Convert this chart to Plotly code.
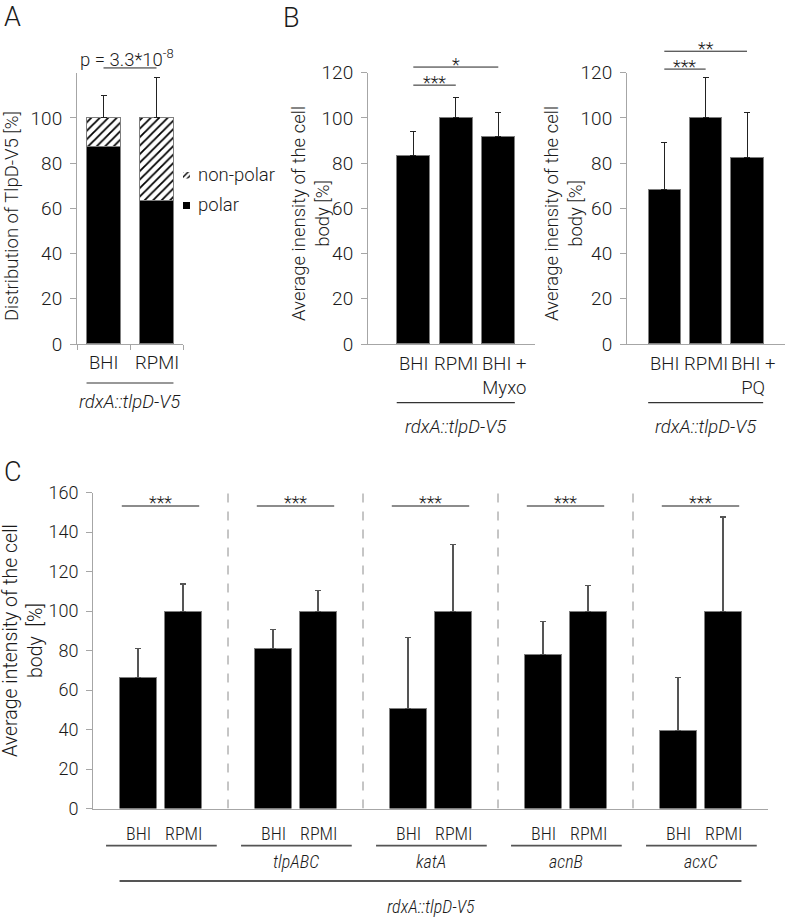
import plotly.graph_objects as go

# ---------------- data ----------------
a_categories = ["BHI", "RPMI"]
a_polar = [87.5, 63.5]
a_polar_err = [10.3, 17.3]
a_nonpolar = [12.5, 36.5]
a_nonpolar_err = [10.0, 17.8]
a_yticks = [0, 20, 40, 60, 80, 100]
a_series_names = ["non-polar", "polar"]
a_pvalue_text = "p = 3.3*10<sup>-8</sup>"
a_pvalue_level = 122.1
strain_label = "rdxA::tlpD-V5"

b1_categories = ["BHI", "RPMI", "BHI +<br>Myxo"]
b1_values = [83.2, 100.0, 91.7]
b1_err = [10.7, 9.1, 10.8]
b1_sig_text = ["***", "*"]
b1_sig_from = [0, 0]
b1_sig_to = [1, 2]
b1_sig_level = [114.5, 122.5]

b2_categories = ["BHI", "RPMI", "BHI +<br>PQ"]
b2_values = [68.4, 100.0, 82.6]
b2_err = [20.8, 17.7, 20.0]
b2_sig_text = ["***", "**"]
b2_sig_from = [0, 0]
b2_sig_to = [1, 2]
b2_sig_level = [121.6, 129.5]
b_yticks = [0, 20, 40, 60, 80, 100, 120]

c_groups = ["", "tlpABC", "katA", "acnB", "acxC"]
c_conditions = ["BHI", "RPMI"]
c_bhi = [66.4, 80.9, 50.6, 78.2, 39.4]
c_bhi_err = [14.5, 9.8, 36.1, 16.6, 27.0]
c_rpmi = [100.0, 100.0, 100.0, 100.0, 100.0]
c_rpmi_err = [13.7, 10.3, 33.6, 12.8, 47.7]
c_sig_text = ["***", "***", "***", "***", "***"]
c_sig_level = [153.3, 153.3, 153.3, 153.3, 153.3]
c_yticks = [0, 20, 40, 60, 80, 100, 120, 140, 160]

# ---------------- layout geometry ----------------
W, H = 787, 917
FONT = "Roboto, Liberation Sans, Arial, sans-serif"
NARROW = "Liberation Sans Narrow, Roboto Condensed, Roboto, sans-serif"
TXT = "#1a1a1a"
AXC = "#a6a6a6"
FW = 300


def fx(p):
    return p / W


def fy(p):
    return 1 - p / H


A_X = [fx(77), fx(183)]
AB_Y = [fy(344), fy(72.7)]
B1_X = [fx(368), fx(535)]
B2_X = [fx(627), fx(785)]
C_X = [fx(93), fx(768)]
C_Y = [fy(808.5), fy(492.7)]
LEG_X = [fx(183), fx(190)]
LEG_Y_NONPOLAR = [fy(178.5), fy(171.5)]
LEG_Y_POLAR = [fy(209), fy(201.8)]

A_RX = [-0.5, 1.5]
B1_RX = [-1.066, 2.864]
B2_RX = [-0.902, 2.919]
C_RX = [0, 15]
AB_RY = [0, 120]
C_RY = [0, 160]


def vy(v, dom, rng):
    return dom[0] + (v - rng[0]) / (rng[1] - rng[0]) * (dom[1] - dom[0])


def font(size, color=TXT, family=FONT, weight=FW):
    return dict(family=family, size=size, color=color, weight=weight)


BAR_LINE = dict(color="#7f7f7f", width=1)
HATCH = dict(shape="/", fgcolor="black", bgcolor="white", size=6, solidity=0.3)

fig = go.Figure()

# ---------------- panel A ----------------
a_x = list(range(len(a_categories)))
AW = 0.64
fig.add_trace(go.Bar(
    x=a_x, y=a_polar, width=AW, name=a_series_names[1],
    marker=dict(color="black", line=BAR_LINE),
    error_y=dict(type="data", symmetric=False, array=a_polar_err,
                 arrayminus=[0] * len(a_x), color="#222", thickness=1, width=3),
    xaxis="x", yaxis="y"))
fig.add_trace(go.Bar(
    x=a_x, y=a_nonpolar, width=AW, name=a_series_names[0],
    marker=dict(color="white", line=BAR_LINE, pattern=HATCH),
    error_y=dict(type="data", symmetric=False, array=a_nonpolar_err,
                 arrayminus=[0] * len(a_x), color="#222", thickness=1, width=3),
    xaxis="x", yaxis="y"))

# legend swatches (drawn as tiny bars on their own axes)
fig.add_trace(go.Bar(x=[0], y=[1], width=1, name=a_series_names[0],
                     marker=dict(color="white", line=dict(width=0),
                                 pattern=dict(shape="/", fgcolor="black", bgcolor="white",
                                              size=4, solidity=0.35)),
                     xaxis="x5", yaxis="y5", hoverinfo="skip"))
fig.add_trace(go.Bar(x=[0], y=[1], width=1, name=a_series_names[1],
                     marker=dict(color="black", line=dict(width=0)),
                     xaxis="x5", yaxis="y6", hoverinfo="skip"))

# ---------------- panel B ----------------
BW = 0.78
for cats, vals, errs, ax in [(b1_categories, b1_values, b1_err, "2"),
                             (b2_categories, b2_values, b2_err, "3")]:
    xs = list(range(len(cats)))
    fig.add_trace(go.Bar(
        x=xs, y=vals, width=BW,
        marker=dict(color="black", line=BAR_LINE),
        error_y=dict(type="data", symmetric=False, array=errs,
                     arrayminus=[0] * len(xs), color="#222", thickness=1, width=3),
        xaxis="x" + ax, yaxis="y" + ax))

# ---------------- panel C ----------------
CW = 0.82
c_bhi_x = [3 * g + 1 for g in range(len(c_groups))]
c_rpmi_x = [3 * g + 2 for g in range(len(c_groups))]
for xs, vals, errs in [(c_bhi_x, c_bhi, c_bhi_err), (c_rpmi_x, c_rpmi, c_rpmi_err)]:
    fig.add_trace(go.Bar(
        x=xs, y=vals, width=CW,
        marker=dict(color="black", line=BAR_LINE),
        error_y=dict(type="data", symmetric=False, array=errs,
                     arrayminus=[0] * len(xs), color="#555", thickness=1.2, width=3),
        xaxis="x4", yaxis="y4"))

shapes = []
ann = []

# panel letters
for letter, (lx, ly) in zip("ABC", [(12, 17.5), (291, 18), (13, 471.5)]):
    ann.append(dict(text=letter, x=fx(lx), y=fy(ly), xref="paper", yref="paper",
                    showarrow=False, xanchor="center", yanchor="middle",
                    font=font(27)))

# ---- A annotations ----
for i, c in enumerate(a_categories):
    ann.append(dict(text=c, x=i, y=fy(363), xref="x", yref="paper", showarrow=False,
                    xanchor="center", yanchor="middle", font=font(18.5)))
shapes.append(dict(type="line", xref="x", yref="paper",
                   x0=a_x[0] - AW / 2, x1=a_x[-1] + AW / 2,
                   y0=fy(383), y1=fy(383), line=dict(color="#333", width=1.2)))
ann.append(dict(text="<i>" + strain_label + "</i>", x=(a_x[0] + a_x[-1]) / 2, y=fy(401.7),
                xref="x", yref="paper", showarrow=False, xanchor="center",
                yanchor="middle", font=font(18.5)))
ya = vy(a_pvalue_level, AB_Y, AB_RY)
shapes.append(dict(type="line", xref="x", yref="paper", x0=a_x[0], x1=a_x[1],
                   y0=ya, y1=ya, line=dict(color="#222", width=1)))
ann.append(dict(text=a_pvalue_text, x=(a_x[0] + a_x[1]) / 2, y=ya, xref="x",
                yref="paper", showarrow=False, xanchor="center", yanchor="bottom",
                xshift=-3, yshift=-5, font=font(18.5)))
ann.append(dict(text="Distribution of TlpD-V5 [%]", x=fx(12), y=fy(216),
                xref="paper", yref="paper", showarrow=False, textangle=-90,
                xanchor="center", yanchor="middle", font=font(18.5)))
for name, ly in zip(a_series_names, [175, 205]):
    ann.append(dict(text=name, x=fx(196), y=fy(ly), xref="paper", yref="paper",
                    showarrow=False, xanchor="left", yanchor="middle", font=font(18.5)))

# ---- B annotations ----
for cats, sig_t, sig_f, sig_to, sig_l, xa, title_x, al in [
        (b1_categories, b1_sig_text, b1_sig_from, b1_sig_to, b1_sig_level, "x2", 311, "right"),
        (b2_categories, b2_sig_text, b2_sig_from, b2_sig_to, b2_sig_level, "x3", 564, "center")]:
    xs = list(range(len(cats)))
    for i, c in enumerate(cats):
        ann.append(dict(text=c, x=i, y=fy(351), xref=xa, yref="paper", showarrow=False,
                        xanchor="center", yanchor="top", align=al,
                        xshift=6 if "<br>" in c else 0, font=font(18.5)))
    shapes.append(dict(type="line", xref=xa, yref="paper",
                       x0=xs[0] - BW / 2, x1=xs[-1] + BW / 2,
                       y0=fy(402.7), y1=fy(402.7), line=dict(color="#333", width=1.2)))
    ann.append(dict(text="<i>" + strain_label + "</i>", x=(xs[0] + xs[-1]) / 2,
                    y=fy(426.5), xref=xa, yref="paper", showarrow=False,
                    xanchor="center", yanchor="middle", font=font(18.5)))
    for t, f0, f1, lvl in zip(sig_t, sig_f, sig_to, sig_l):
        yy = vy(lvl, AB_Y, AB_RY)
        shapes.append(dict(type="line", xref=xa, yref="paper", x0=f0, x1=f1,
                           y0=yy, y1=yy, line=dict(color="#222", width=1)))
        ann.append(dict(text=t, x=(f0 + f1) / 2, y=yy, xref=xa, yref="paper",
                        showarrow=False, xanchor="center", yanchor="middle",
                        yshift=3, font=font(18)))
    ann.append(dict(text="Average inensity of the cell<br>body [%]", x=fx(title_x),
                    y=fy(214), xref="paper", yref="paper", showarrow=False,
                    textangle=-90, xanchor="center", yanchor="middle", font=font(18.5)))

# ---- C annotations ----
for g, gene in enumerate(c_groups):
    bx, rx = c_bhi_x[g], c_rpmi_x[g]
    for xx, lab in zip([bx, rx], c_conditions):
        ann.append(dict(text=lab, x=xx, y=fy(833), xref="x4", yref="paper",
                        showarrow=False, xanchor="center", yanchor="middle",
                        font=font(18, family=NARROW)))
    shapes.append(dict(type="line", xref="x4", yref="paper", x0=bx - 0.71, x1=rx + 0.75,
                       y0=fy(845.7), y1=fy(845.7), line=dict(color="#555", width=1.8)))
    if gene:
        ann.append(dict(text="<i>" + gene + "</i>", x=(bx + rx) / 2, y=fy(861),
                        xref="x4", yref="paper", showarrow=False, xanchor="center",
                        yanchor="middle", font=font(18, family=NARROW)))
    yy = vy(c_sig_level[g], C_Y, C_RY)
    shapes.append(dict(type="line", xref="x4", yref="paper", x0=bx - 0.36, x1=rx + 0.36,
                       y0=yy, y1=yy, line=dict(color="#8c8c8c", width=2)))
    ann.append(dict(text=c_sig_text[g], x=(bx + rx) / 2, y=yy, xref="x4", yref="paper",
                    showarrow=False, xanchor="center", yanchor="middle", yshift=3,
                    font=font(18)))
    if g > 0:
        shapes.append(dict(type="line", xref="x4", yref="y4", x0=3 * g, x1=3 * g,
                           y0=C_RY[0], y1=C_RY[1],
                           line=dict(color="#8c8c8c", width=1, dash="dash")))
shapes.append(dict(type="line", xref="x4", yref="paper",
                   x0=c_bhi_x[0] - CW / 2, x1=c_rpmi_x[-1] + CW / 2,
                   y0=fy(881), y1=fy(881), line=dict(color="#555", width=1.8)))
ann.append(dict(text="<i>" + strain_label + "</i>",
                x=(c_bhi_x[0] + c_rpmi_x[-1]) / 2, y=fy(906), xref="x4", yref="paper",
                showarrow=False, xanchor="center", yanchor="middle",
                font=font(18, family=NARROW)))
ann.append(dict(text="Average intensity of the cell<br>body  [%]", x=fx(23), y=fy(641),
                xref="paper", yref="paper", showarrow=False, textangle=-90,
                xanchor="center", yanchor="middle", font=font(19.5)))


# ---------------- axes ----------------
def yaxis(dom, rng, ticks, anchor, size=19):
    return dict(domain=dom, range=rng, tickvals=ticks, showline=True, linecolor=AXC,
                linewidth=1, ticks="outside", ticklen=6, tickcolor=AXC, tickwidth=1,
                showgrid=False, zeroline=False, tickfont=font(size), anchor=anchor,
                fixedrange=True, ticklabelstandoff=4, automargin=False)


def xaxis(dom, rng, anchor, tickvals=None):
    d = dict(domain=dom, range=rng, showline=True, linecolor=AXC, linewidth=1,
             showgrid=False, zeroline=False, anchor=anchor, fixedrange=True,
             showticklabels=False, automargin=False)
    if tickvals is not None:
        d.update(tickvals=tickvals, ticks="outside", ticklen=5, tickcolor=AXC)
    else:
        d.update(ticks="")
    return d


def hidden(dom, rng, anchor):
    return dict(domain=dom, range=rng, visible=False, fixedrange=True,
                anchor=anchor, automargin=False)


fig.update_layout(
    template="none",
    width=W, height=H, margin=dict(l=0, r=0, t=0, b=0, pad=0, autoexpand=False),
    paper_bgcolor="white", plot_bgcolor="rgba(0,0,0,0)", font=font(18),
    barmode="stack", bargap=0, showlegend=False,
    xaxis=xaxis(A_X, A_RX, "y", tickvals=[-0.5, 0.5, 1.5]),
    yaxis=yaxis(AB_Y, AB_RY, a_yticks, "x"),
    xaxis2=xaxis(B1_X, B1_RX, "y2"),
    yaxis2=yaxis(AB_Y, AB_RY, b_yticks, "x2"),
    xaxis3=xaxis(B2_X, B2_RX, "y3"),
    yaxis3=yaxis(AB_Y, AB_RY, b_yticks, "x3"),
    xaxis4=xaxis(C_X, C_RX, "y4"),
    yaxis4=yaxis(C_Y, C_RY, c_yticks, "x4", size=18),
    xaxis5=hidden(LEG_X, [-0.5, 0.5], "y5"),
    yaxis5=hidden(LEG_Y_NONPOLAR, [0, 1], "x5"),
    yaxis6=hidden(LEG_Y_POLAR, [0, 1], "x5"),
    shapes=shapes, annotations=ann,
)

fig.write_html("out.html", config={"displayModeBar": False, "staticPlot": True},
               post_script="document.body.style.margin='0';")
